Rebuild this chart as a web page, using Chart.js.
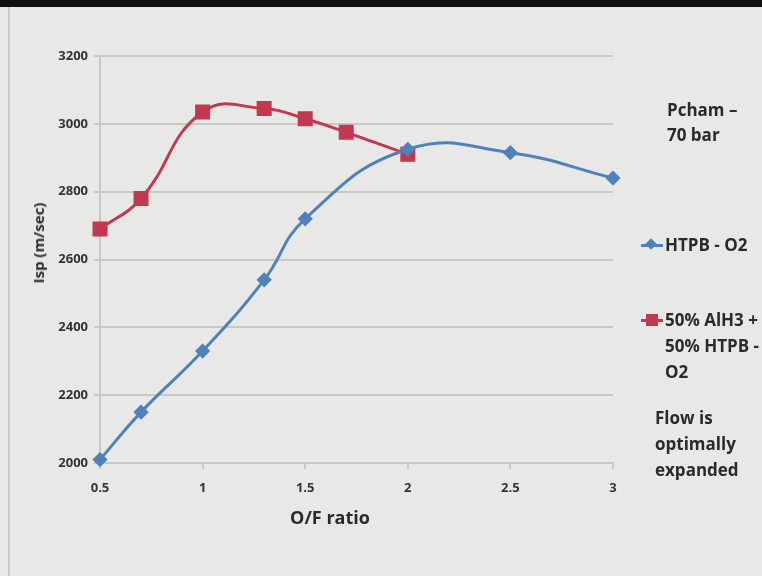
<!DOCTYPE html>
<html>
<head>
<meta charset="utf-8">
<script src="https://cdn.jsdelivr.net/npm/chart.js@4/dist/chart.umd.min.js"></script>
<style>
  html, body { margin: 0; padding: 0; }
  body { width: 762px; height: 576px; background: #e8e9e6; position: relative; overflow: hidden; font-family: "Open Sans", sans-serif; }
  #topbar { position: absolute; left: 0; top: 0; width: 762px; height: 7px; background: #111; }
  #leftline { position: absolute; left: 8px; top: 7px; width: 2px; height: 569px; background: #c9cac7; }
  #wrap { position: absolute; left: 0; top: 0; width: 762px; height: 576px; }
  .note { position: absolute; color: #2a2a2a; font-weight: 700; font-size: 17px; line-height: 26px; white-space: nowrap; }
  .key { position: absolute; left: 641px; width: 22px; height: 3px; }
  .key i { position: absolute; display: block; }
  #ytitle { position: absolute; left: 38px; top: 243px; transform: translate(-50%, -50%) rotate(-90deg); color: #2a2a2a; font-weight: 700; font-size: 15px; white-space: nowrap; }
  #xtitle { position: absolute; left: 330px; top: 517px; transform: translate(-50%, -50%); color: #2a2a2a; font-weight: 700; font-size: 18px; white-space: nowrap; }
</style>
</head>
<body>
<div id="wrap"><canvas id="chart" width="762" height="576"></canvas></div>
<div id="topbar"></div>
<div id="leftline"></div>
<div id="ytitle">Isp (m/sec)</div>
<div id="xtitle">O/F ratio</div>

<div class="note" style="left:667px; top:97px; line-height:25px;">Pcham –<br>70 bar</div>

<div class="key" style="top:244px; background:#4f81bd;"><i style="left:6px; top:-4px; width:8px; height:8px; background:#4f81bd; transform:rotate(45deg);"></i></div>
<div class="note" style="left:665px; top:232px;">HTPB - O2</div>

<div class="key" style="top:319px; background:#c0394f;"><i style="left:5px; top:-5px; width:12px; height:12px; background:#c0394f;"></i></div>
<div class="note" style="left:665px; top:307px;">50% AlH3 +<br>50% HTPB -<br>O2</div>

<div class="note" style="left:655px; top:405px;">Flow is<br>optimally<br>expanded</div>

<script>
const htpbRatio = [0.5, 0.7, 1, 1.3, 1.5, 2, 2.5, 3];
const htpbIsp = [2010, 2150, 2330, 2540, 2720, 2925, 2915, 2840];

const alh3Ratio = [0.5, 0.7, 1, 1.3, 1.5, 1.7, 2];
const alh3Isp = [2690, 2780, 3035, 3045, 3015, 2975, 2910];

const yTicks = [2000, 2200, 2400, 2600, 2800, 3000, 3200];
const xTicks = [0.5, 1, 1.5, 2, 2.5, 3];

const blue = "#4f81bd";
const red = "#c0394f";
const gridColor = "#c7c9c6";
const tickFont = { family: "Open Sans", size: 13, weight: "700" };

const ctx = document.getElementById("chart");

new Chart(ctx, {
  type: "line",
  data: {
    datasets: [
      {
        label: "HTPB - O2",
        data: htpbRatio.map((x, i) => ({ x: x, y: htpbIsp[i] })),
        borderColor: blue,
        backgroundColor: blue,
        borderWidth: 3,
        pointStyle: "rectRot",
        pointRadius: 5.5,
        tension: 0.45,
        clip: false,
      },
      {
        label: "50% AlH3 + 50% HTPB - O2",
        data: alh3Ratio.map((x, i) => ({ x: x, y: alh3Isp[i] })),
        borderColor: red,
        backgroundColor: red,
        borderWidth: 3,
        pointStyle: "rect",
        pointRadius: 8.5,
        tension: 0.45,
        clip: false,
      },
    ],
  },
  options: {
    responsive: false,
    animation: false,
    layout: { padding: { left: 20, right: 149, top: 56, bottom: 37 } },
    plugins: { legend: { display: false }, tooltip: { enabled: false } },
    scales: {
      x: {
        type: "linear",
        min: 0.5,
        max: 3,
        afterBuildTicks: (axis) => { axis.ticks = xTicks.map((v) => ({ value: v })); },
        afterFit: (axis) => { axis.height = 76; },
        grid: { drawOnChartArea: false, drawTicks: true, tickLength: 6, color: gridColor, lineWidth: 2 },
        border: { color: gridColor, width: 2 },
        ticks: { color: "#333", font: tickFont, padding: 11, maxRotation: 0, callback: (v) => String(v) },
      },
      y: {
        min: 2000,
        max: 3200,
        afterBuildTicks: (axis) => { axis.ticks = yTicks.map((v) => ({ value: v })); },
        afterFit: (axis) => { axis.width = 80; },
        grid: { color: gridColor, lineWidth: 2, tickLength: 6 },
        border: { color: gridColor, width: 2 },
        ticks: { color: "#333", font: tickFont, padding: 6, callback: (v) => String(v) },
      },
    },
  },
});
</script>
</body>
</html>
